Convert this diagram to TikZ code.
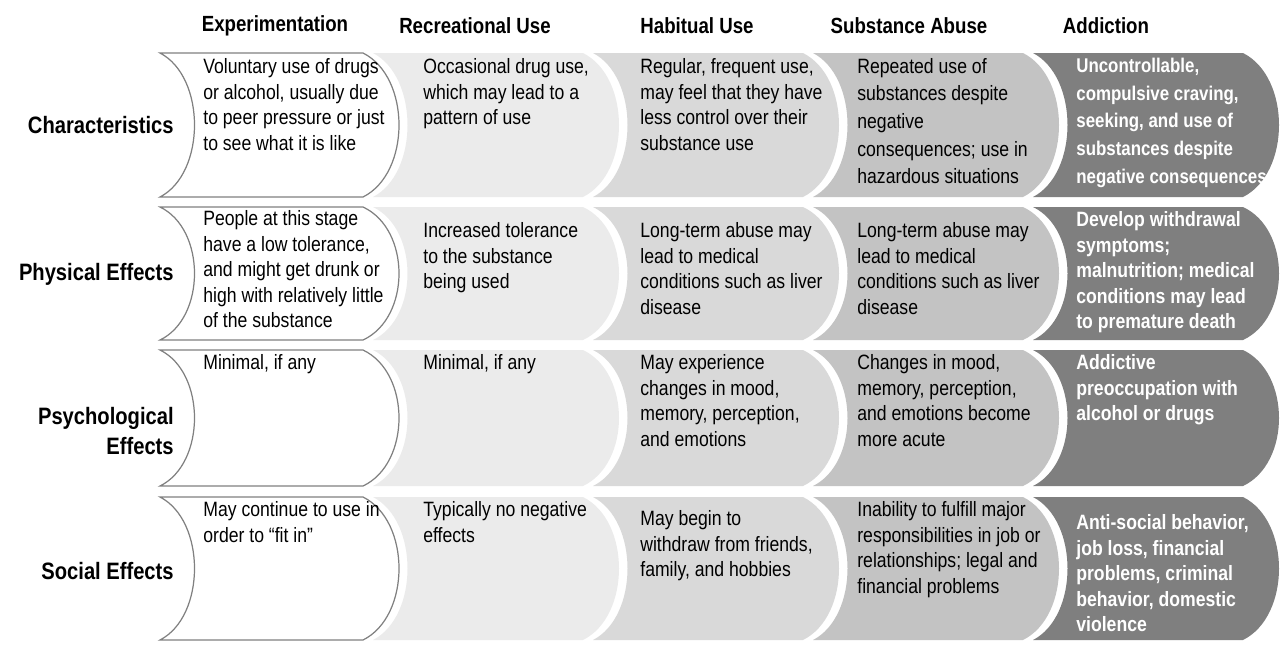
\documentclass[tikz,border=0pt]{standalone}
\usepackage{fontspec}
\setmainfont{Liberation Sans}[FakeStretch=0.85]
\usepackage{xcolor}
\usepackage{tikz}
\definecolor{stagetwo}{HTML}{EBEBEB}
\definecolor{stagethree}{HTML}{D9D9D9}
\definecolor{stagefour}{HTML}{C3C3C3}
\definecolor{stagefive}{HTML}{7F7F7F}
\tikzstyle{stage} = [font=\bfseries\fontsize{12.5}{15}\selectfont, inner sep=0pt]
\tikzstyle{rowlabel} = [font=\bfseries\fontsize{13.5}{17.5}\selectfont, anchor=east, align=right, inner sep=0pt]
\tikzstyle{celltext} = [font=\fontsize{11.8}{14.6}\selectfont, anchor=north west, align=left, inner sep=0pt]
\tikzstyle{darktext} = [celltext, text=white, font=\bfseries\fontsize{11.8}{14.6}\selectfont]
\tikzstyle{loose} = [font=\fontsize{11.8}{15.7}\selectfont]
\tikzstyle{darkloose} = [font=\bfseries\fontsize{11.3}{15.7}\selectfont]
\tikzstyle{cellone} = [fill=white, draw=gray, line width=0.7pt]
\tikzstyle{celltwo} = [fill=stagetwo]
\tikzstyle{cellthree} = [fill=stagethree]
\tikzstyle{cellfour} = [fill=stagefour]
\tikzstyle{cellfive} = [fill=stagefive]
% one curved block: [width] left, top, bottom, style
\newcommand{\stagecell}[5][210]{%
  \path[#5] (#2,#3) -- ({#2+#1},#3)
    .. controls ({#2+#1+48},{#3+(#4-#3)/6}) and ({#2+#1+48},{#4-(#4-#3)/6}) .. ({#2+#1},#4)
    -- (#2,#4)
    .. controls ({#2+46},{#4-(#4-#3)/6}) and ({#2+46},{#3+(#4-#3)/6}) .. (#2,#3) -- cycle;}

\begin{document}
\begin{tikzpicture}[x=0.02cm, y=-0.02cm]
    \useasboundingbox (0,0) rectangle (1284,664);
    % blocks
    \stagecell[203]{160}{53}{197}{cellone}
    \stagecell{373}{53}{197}{celltwo}
    \stagecell{593}{53}{197}{cellthree}
    \stagecell{813}{53}{197}{cellfour}
    \stagecell{1033}{53}{197}{cellfive}
    \stagecell[203]{160}{207}{340}{cellone}
    \stagecell{373}{207}{340}{celltwo}
    \stagecell{593}{207}{340}{cellthree}
    \stagecell{813}{207}{340}{cellfour}
    \stagecell{1033}{207}{340}{cellfive}
    \stagecell[203]{160}{350}{486}{cellone}
    \stagecell{373}{350}{486}{celltwo}
    \stagecell{593}{350}{486}{cellthree}
    \stagecell{813}{350}{486}{cellfour}
    \stagecell{1033}{350}{486}{cellfive}
    \stagecell[203]{160}{497}{640}{cellone}
    \stagecell{373}{497}{640}{celltwo}
    \stagecell{593}{497}{640}{cellthree}
    \stagecell{813}{497}{640}{cellfour}
    \stagecell{1033}{497}{640}{cellfive}
    % stage headings
    \node (exper) [stage] at (275,26) {Experimentation};
    \node (recre) [stage] at (475,26) {Recreational Use};
    \node (habit) [stage] at (697,26) {Habitual Use};
    \node (abuse) [stage] at (909,26) {Substance Abuse};
    \node (addic) [stage] at (1106,26) {Addiction};
    % row headings
    \node (charac) [rowlabel] at (174,125) {Characteristics};
    \node (physic) [rowlabel] at (174,274) {Physical Effects};
    \node (psych) [rowlabel] at (174,431) {Psychological\\Effects};
    \node (social) [rowlabel] at (174,571) {Social Effects};
    % characteristics
    \node (charexp) [celltext] at (203,58) {Voluntary use of drugs\\or alcohol, usually due\\to peer pressure or just\\to see what it is like};
    \node (charrec) [celltext] at (423,58) {Occasional drug use,\\which may lead to a\\pattern of use};
    \node (charhab) [celltext] at (640,58) {Regular, frequent use,\\may feel that they have\\less control over their\\substance use};
    \node (charabu) [celltext, loose] at (857,58) {Repeated use of\\substances despite\\negative\\consequences; use in\\hazardous situations};
    \node (charadd) [darktext, darkloose] at (1076,58) {Uncontrollable,\\compulsive craving,\\seeking, and use of\\substances despite\\negative consequences};
    % physical effects
    \node (physexp) [celltext] at (203,210) {People at this stage\\have a low tolerance,\\and might get drunk or\\high with relatively little\\of the substance};
    \node (physrec) [celltext] at (423,222) {Increased tolerance\\to the substance\\being used};
    \node (physhab) [celltext] at (640,222) {Long-term abuse may\\lead to medical\\conditions such as liver\\disease};
    \node (physabu) [celltext] at (857,222) {Long-term abuse may\\lead to medical\\conditions such as liver\\disease};
    \node (physadd) [darktext] at (1076,211) {Develop withdrawal\\symptoms;\\malnutrition; medical\\conditions may lead\\to premature death};
    % psychological effects
    \node (psyexp) [celltext] at (203,354) {Minimal, if any};
    \node (psyrec) [celltext] at (423,354) {Minimal, if any};
    \node (psyhab) [celltext] at (640,354) {May experience\\changes in mood,\\memory, perception,\\and emotions};
    \node (psyabu) [celltext] at (857,354) {Changes in mood,\\memory, perception,\\and emotions become\\more acute};
    \node (psyadd) [darktext] at (1076,354) {Addictive\\preoccupation with\\alcohol or drugs};
    % social effects
    \node (socexp) [celltext] at (203,501) {May continue to use in\\order to “fit in”};
    \node (socrec) [celltext] at (423,501) {Typically no negative\\effects};
    \node (sochab) [celltext] at (640,510) {May begin to\\withdraw from friends,\\family, and hobbies};
    \node (socabu) [celltext] at (857,501) {Inability to fulfill major\\responsibilities in job or\\relationships; legal and\\financial problems};
    \node (socadd) [darktext] at (1076,514) {Anti-social behavior,\\job loss, financial\\problems, criminal\\behavior, domestic\\violence};
\end{tikzpicture}
\end{document}
